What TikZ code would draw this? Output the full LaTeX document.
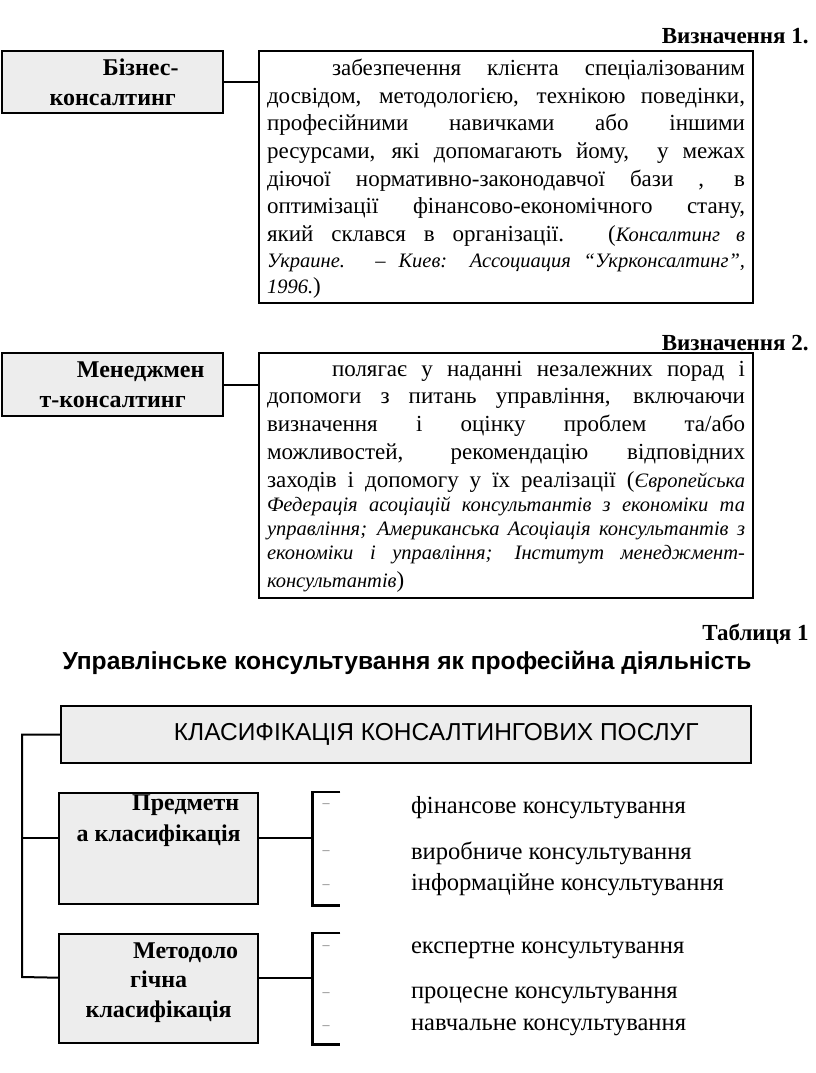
\documentclass[tikz,border=0pt]{standalone}
\usepackage{fontspec}
\setmainfont{Liberation Serif}
\setsansfont{Liberation Sans}
\usetikzlibrary{positioning}
\newcommand{\deftext}[1]{\parbox[t]{478pt}{\hyphenpenalty=10000\exhyphenpenalty=10000
  \fontsize{23}{27.7}\selectfont #1}}
\newcommand{\srcfont}{\fontsize{20.5}{24}\selectfont\itshape}
\begin{document}
\begin{tikzpicture}[x=1pt, y=-1pt, line width=2pt,
    namebox/.style={draw, fill=black!7, line width=2.4pt, inner sep=0pt, anchor=north west,
      align=center, font=\fontsize{24}{30}\selectfont\bfseries},
    defbox/.style={draw, line width=2.4pt, inner sep=0pt, anchor=north west},
    deftextnode/.style={anchor=north west, inner sep=0pt},
    headtext/.style={anchor=base east, font=\fontsize{23}{27}\selectfont\bfseries},
    bracket/.style={line width=2.2pt},
    dashmark/.style={text=black!55, font=\fontsize{14}{14}\selectfont, inner sep=0pt},
    itemtext/.style={anchor=west, inner sep=0pt, font=\fontsize{24.6}{28}\selectfont}]
  \useasboundingbox (0,0) rectangle (816,1073);
  % Визначення 1
  \node[headtext] (h1) at (813,44) {Визначення 1.};
  \node[namebox, minimum width=221, minimum height=62] (biz) at (1,50)
    {\hspace*{56pt}Бізнес-\\консалтинг};
  \node[defbox, minimum width=494, minimum height=252] (def1) at (258,50) {};
  \node[deftextnode] (txt1) at ([xshift=8pt,yshift=-8pt]def1.north west) {\deftext{%
    \hspace*{65pt}забезпечення клієнта спеціалізованим\linebreak
    досвідом, методологією, технікою поведінки,\linebreak
    професійними навичками або іншими\linebreak
    ресурсами, які допомагають йому,\ \ у межах\linebreak
    діючої нормативно-законодавчої бази , в\linebreak
    оптимізації фінансово-економічного стану,\linebreak
    який склався в організації. ({\srcfont Консалтинг в\vadjust{\kern-2pt}\linebreak
    Украине. – Киев: Ассоциация “Укрконсалтинг”,\vadjust{\kern-2pt}\linebreak
    1996.})}};
  \draw (biz.east) -- (biz.east -| def1.west);
  % Визначення 2
  \node[headtext] (h2) at (813,350) {Визначення 2.};
  \node[namebox, minimum width=221, minimum height=63] (mgmt) at (1,352)
    {\hspace*{56pt}Менеджмен\\т-консалтинг};
  \node[defbox, minimum width=494, minimum height=245] (def2) at (258,352) {};
  \node[deftextnode] (txt2) at ([xshift=8pt,yshift=-8pt]def2.north west) {\deftext{%
    \hspace*{65pt}полягає у наданні незалежних порад і\linebreak
    допомоги з питань управління, включаючи\linebreak
    визначення і оцінку проблем та/або\linebreak
    можливостей, рекомендацію відповідних\linebreak
    заходів і допомогу у їх реалізації ({\srcfont Європейська\vadjust{\kern-3pt}\linebreak
    Федерація асоціацій консультантів з економіки та\vadjust{\kern-3.5pt}\linebreak
    управління; Американська Асоціація консультантів з\vadjust{\kern-4pt}\linebreak
    економіки і управління; Інститут менеджмент-\linebreak
    консультантів})}};
  \draw (mgmt.east) -- (mgmt.east -| def2.west);
  % Таблиця 1
  \node[headtext] (tab) at (813,640) {Таблиця 1};
  \node[anchor=base, font=\fontsize{24.6}{28}\selectfont\sffamily\bfseries] (title) at (407,669)
    {Управлінське консультування як професійна діяльність};
  \node[namebox, font=\fontsize{24.5}{28}\selectfont\sffamily, minimum width=690, minimum height=57] (cls) at (60,705)
    {\hspace*{60pt}КЛАСИФІКАЦІЯ КОНСАЛТИНГОВИХ ПОСЛУГ};
  \node[namebox, minimum width=199, minimum height=111] (subj) at (58,792)
    {\hspace*{54pt}Предметн\\[1pt]а класифікація\\[32pt]};
  \node[namebox, font=\fontsize{24}{29.5}\selectfont\bfseries, minimum width=199, minimum height=109] (meth) at (58,933)
    {\hspace*{54pt}Методоло\\гічна\\класифікація\\[-12pt]};
  % лінії від заголовка
  \coordinate (spine) at (22,977);
  \draw (cls.west) -| (spine) -- ([yshift=11pt]meth.west);
  \draw ([yshift=11pt]subj.west) -- ([yshift=11pt]subj.west -| spine);
  % дужки
  \draw[bracket] ([xshift=81pt]subj.north east) -| ([xshift=53pt]subj.south east) -- ++(28,0);
  \draw ([yshift=11pt]subj.east) -- ++(53,0);
  \draw[bracket] ([xshift=81pt]meth.north east) -| ([xshift=53pt]meth.south east) -- ++(28,0);
  \draw ([yshift=11pt]meth.east) -- ++(53,0);
  % види консультування
  \node[dashmark] (m1) at (326,806) {–};
  \node[dashmark] (m2) at (326,853) {–};
  \node[dashmark] (m3) at (326,887) {–};
  \node[dashmark] (m4) at (326,948) {–};
  \node[dashmark] (m5) at (326,995) {–};
  \node[dashmark] (m6) at (326,1028) {–};
  \node[itemtext] (fin) at (410,808) {фінансове консультування};
  \node[itemtext] (prod) at (410,853) {виробниче консультування};
  \node[itemtext] (info) at (410,885) {інформаційне консультування};
  \node[itemtext] (exp) at (410,950) {експертне консультування};
  \node[itemtext] (proc) at (410,995) {процесне консультування};
  \node[itemtext] (edu) at (410,1027) {навчальне консультування};
\end{tikzpicture}
\end{document}
